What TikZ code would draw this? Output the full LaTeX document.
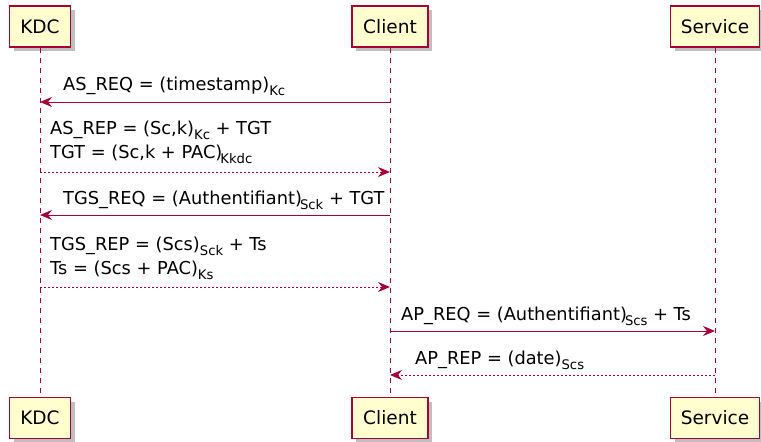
\documentclass[tikz,border=0pt]{standalone}
\usepackage{fontspec}
\setmainfont{DejaVu Sans}
\usepackage{tikz}
\usetikzlibrary{positioning,arrows.meta,shadows}

\definecolor{umlred}{HTML}{A80036}
\definecolor{umlfill}{HTML}{FEFECE}

% subscript as PlantUML prints it
\newcommand{\keysub}[1]{\raisebox{-5pt}{\fontsize{13.2}{13.2}\selectfont #1}}

\tikzset{
  partbox/.style={draw=umlred, fill=umlfill, line width=1.3pt, inner sep=0pt,
    minimum height=41pt, font=\fontsize{18.5}{20}\selectfont,
    drop shadow={shadow xshift=4pt, shadow yshift=-4pt, fill=black, opacity=0.25}},
  lifeline/.style={umlred, line width=1pt, dash pattern=on 5pt off 5pt},
  msg/.style={umlred, line width=1pt, -{Stealth[length=12pt,width=10pt,inset=4pt]}},
  reply/.style={msg, dash pattern=on 2pt off 2pt},
  msglabel/.style={font=\fontsize{17.8}{20}\selectfont, anchor=base west, inner sep=0pt}
}

\begin{document}
\begin{tikzpicture}[x=1pt, y=-1pt]
  \useasboundingbox (0,0) rectangle (761,442);

  % Participants, top
  \node[partbox, minimum width=61pt] (kdctop) at (40,26.5) {KDC};
  \node[partbox, minimum width=76pt] (clienttop) at (390,26.5) {Client};
  \node[partbox, minimum width=89pt] (servicetop) at (715,26.5) {Service};

  % Participants, bottom
  \node[partbox, minimum width=61pt] (kdcbot) at (40,418) {KDC};
  \node[partbox, minimum width=76pt] (clientbot) at (390,418) {Client};
  \node[partbox, minimum width=89pt] (servicebot) at (715,418) {Service};

  % Lifelines
  \draw[lifeline] (kdctop) -- (kdcbot);
  \draw[lifeline] (clienttop) -- (clientbot);
  \draw[lifeline] (servicetop) -- (servicebot);

  % AS exchange
  \node[msglabel] (asreq) at (63,90) {AS\_REQ = (timestamp)\keysub{Kc}};
  \draw[msg] (clienttop |- 0,102) -- (kdctop |- 0,102);

  \node[msglabel] (asrep) at (50,134) {AS\_REP = (Sc,k)\keysub{Kc} + TGT};
  \node[msglabel] (astgt) at (50,158) {TGT = (Sc,k + PAC)\hspace{-2pt}\keysub{Kkdc}};
  \draw[reply] (kdctop |- 0,172) -- (clienttop |- 0,172);

  % TGS exchange
  \node[msglabel] (tgsreq) at (63,204) {TGS\_REQ = (Authentifiant)\hspace{-2pt}\keysub{Sck} + TGT};
  \draw[msg] (clienttop |- 0,215) -- (kdctop |- 0,215);

  \node[msglabel] (tgsrep) at (50,250) {TGS\_REP = (Scs)\keysub{Sck} + Ts};
  \node[msglabel] (tgsts) at (50,274) {Ts = (Scs + PAC)\keysub{Ks}};
  \draw[reply] (kdctop |- 0,287) -- (clienttop |- 0,287);

  % AP exchange
  \node[msglabel] (apreq) at (401,320) {AP\_REQ = (Authentifiant)\hspace{-2pt}\keysub{Scs} + Ts};
  \draw[msg] (clienttop |- 0,331) -- (servicetop |- 0,331);

  \node[msglabel] (aprep) at (415,364) {AP\_REP = (date)\keysub{Scs}};
  \draw[reply] (servicetop |- 0,375) -- (clienttop |- 0,375);
\end{tikzpicture}
\end{document}
